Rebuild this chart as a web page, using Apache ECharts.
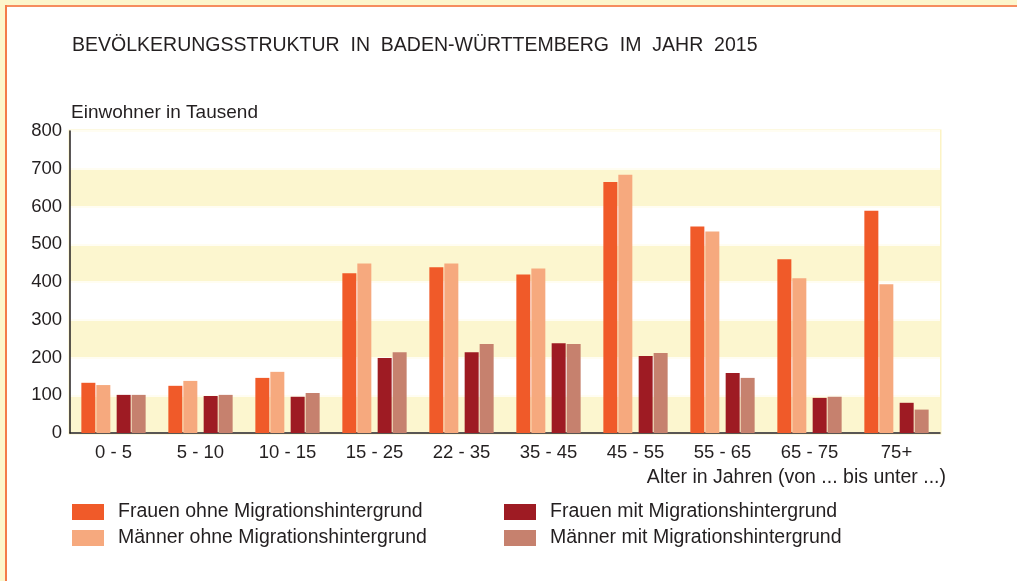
<!DOCTYPE html>
<html>
<head>
<meta charset="utf-8">
<script src="https://cdn.jsdelivr.net/npm/echarts@6/dist/echarts.min.js"></script>
<style>
html,body{margin:0;padding:0;background:#fff;}
#chart{width:1017px;height:581px;}
</style>
</head>
<body>
<div id="chart"></div>
<script>
const categories = ['0 - 5','5 - 10','10 - 15','15 - 25','22 - 35','35 - 45','45 - 55','55 - 65','65 - 75','75+'];
const frauenOhne = [133,125,146,423,439,420,665,547,460,589];
const maennerOhne = [127,138,162,449,449,436,684,534,410,394];
const frauenMit = [101,98,96,199,214,238,204,159,93,80];
const maennerMit = [101,101,106,214,236,236,212,146,96,62];
const yTicks = [0,100,200,300,400,500,600,700,800];

const names = ['Frauen ohne Migrationshintergrund','Männer ohne Migrationshintergrund','Frauen mit Migrationshintergrund','Männer mit Migrationshintergrund'];
const colors = ['#f05a29','#f6a97e','#9e1b23','#c6816e'];
const txt = '#231f20';
const font = '"Liberation Sans", Arial, sans-serif';

const chart = echarts.init(document.getElementById('chart'), null, {renderer:'canvas'});
function bar(i, data){
  return {name:names[i], type:'bar', data:data, barWidth:14, barGap:'7%',
    itemStyle:{color:colors[i]}, emphasis:{disabled:true}};
}
chart.setOption({
  animation:false,
  backgroundColor:'#ffffff',
  textStyle:{fontFamily:font},
  title:{text:'BEVÖLKERUNGSSTRUKTUR  IN  BADEN-WÜRTTEMBERG  IM  JAHR  2015', left:67, top:31,
    textStyle:{fontSize:19.5, fontWeight:'normal', color:txt, fontFamily:font}},
  graphic:[
    {type:'rect', shape:{x:0,y:0,width:1017,height:5}, style:{fill:'#fdf6cc'}, silent:true},
    {type:'rect', shape:{x:0,y:0,width:5,height:581}, style:{fill:'#fdf6cc'}, silent:true},
    {type:'rect', shape:{x:5,y:5,width:1012,height:2}, style:{fill:'#f68d5f'}, silent:true},
    {type:'rect', shape:{x:5,y:5,width:2,height:576}, style:{fill:'#f47b4a'}, silent:true}
  ],
  legend:[
    {data:[names[0],names[1]], orient:'vertical', left:72, top:502, padding:0, itemWidth:32, itemHeight:16, itemGap:6,
      icon:'rect', selectedMode:false, textStyle:{fontSize:19.5, lineHeight:16, color:txt, padding:[0,0,0,9]}},
    {data:[names[2],names[3]], orient:'vertical', left:504, top:502, padding:0, itemWidth:32, itemHeight:16, itemGap:6,
      icon:'rect', selectedMode:false, textStyle:{fontSize:19.5, lineHeight:16, color:txt, padding:[0,0,0,9]}}
  ],
  grid:{left:70, right:77, top:131, bottom:148, show:true, borderColor:'#fcf3c4', borderWidth:3, backgroundColor:'transparent'},
  xAxis:{type:'category', data:categories,
    axisLine:{lineStyle:{color:'#231f20', width:1.5}}, axisTick:{show:false},
    axisLabel:{fontSize:18.5, color:txt, margin:10},
    name:'Alter in Jahren (von ... bis unter ...)', nameLocation:'end', nameGap:6,
    nameTextStyle:{fontSize:19.5, color:txt, align:'right', verticalAlign:'top', padding:[35,0,0,0]}},
  yAxis:{type:'value', min:0, max:800, interval:100,
    axisLine:{show:true, lineStyle:{color:'#231f20', width:1.5}}, axisTick:{show:false},
    axisLabel:{fontSize:18.5, color:txt, margin:8, formatter:function(v){return yTicks.indexOf(v)>=0?String(v):'';}},
    splitLine:{show:true, lineStyle:{color:'#fffdf2', width:2}},
    splitArea:{show:true, areaStyle:{color:['#fcf6cf','#ffffff']}},
    name:'Einwohner in Tausend', nameLocation:'end', nameGap:9,
    nameTextStyle:{fontSize:19, color:txt, align:'left', padding:[0,0,0,1]}},
  series:[
    bar(0, frauenOhne),
    bar(1, maennerOhne),
    {name:'gap', type:'bar', data:categories.map(function(){return null;}), barWidth:5, barGap:'7%', silent:true},
    bar(2, frauenMit),
    bar(3, maennerMit)
  ]
});
</script>
</body>
</html>
